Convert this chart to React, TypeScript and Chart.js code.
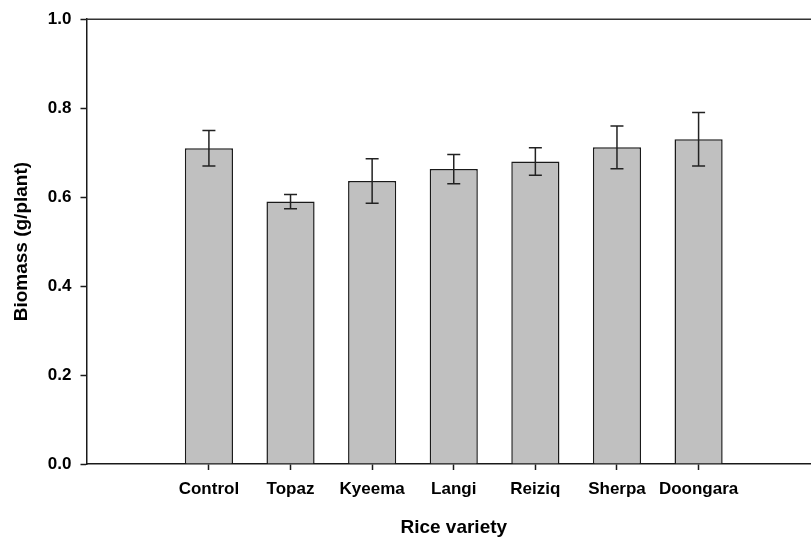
import React, { useEffect, useRef } from 'react';
import { Chart, registerables } from 'chart.js';

Chart.register(...registerables);

// Rice varieties and their mean biomass (g/plant) with standard errors
const varieties = ['Control', 'Topaz', 'Kyeema', 'Langi', 'Reiziq', 'Sherpa', 'Doongara'];
const biomass = [0.71, 0.59, 0.636, 0.663, 0.68, 0.712, 0.73];
const biomassError = [0.04, 0.016, 0.05, 0.033, 0.031, 0.048, 0.06];
const yTicks = [0, 0.2, 0.4, 0.6, 0.8, 1.0];

const FONT = '"Liberation Sans", Arial, Helvetica, sans-serif';
const INK = '#1a1a1a';

// One empty slot on each side of the varieties
const slotLabels = ['', ...varieties, ''];
const slotValues = [null, ...biomass, null];
const slotErrors = [null, ...biomassError, null];

const errorBarPlugin = {
  id: 'errorBars',
  afterDatasetsDraw(chart: any) {
    const { ctx } = chart;
    const yScale = chart.scales.y;
    const meta = chart.getDatasetMeta(0);
    ctx.save();
    ctx.strokeStyle = '#222';
    ctx.lineWidth = 1.5;
    meta.data.forEach((bar: any, i: number) => {
      const v = slotValues[i];
      const e = slotErrors[i];
      if (v == null || e == null) return;
      const x = bar.x;
      const yTop = yScale.getPixelForValue(v + e);
      const yBot = yScale.getPixelForValue(v - e);
      const half = 6.5;
      ctx.beginPath();
      ctx.moveTo(x, yTop);
      ctx.lineTo(x, yBot);
      ctx.moveTo(x - half, yTop);
      ctx.lineTo(x + half, yTop);
      ctx.moveTo(x - half, yBot);
      ctx.lineTo(x + half, yBot);
      ctx.stroke();
    });
    ctx.restore();
  },
};

const topFramePlugin = {
  id: 'topFrame',
  afterDraw(chart: any) {
    const { ctx, chartArea } = chart;
    ctx.save();
    ctx.strokeStyle = '#333';
    ctx.lineWidth = 1.5;
    ctx.beginPath();
    ctx.moveTo(chartArea.left, chartArea.top);
    ctx.lineTo(chartArea.right, chartArea.top);
    ctx.stroke();
    ctx.restore();
  },
};

export default function App() {
  const canvasRef = useRef<HTMLCanvasElement | null>(null);

  useEffect(() => {
    if (!canvasRef.current) return;
    const chart = new Chart(canvasRef.current, {
      type: 'bar',
      data: {
        labels: slotLabels,
        datasets: [
          {
            data: slotValues as any,
            backgroundColor: '#c0c0c0',
            borderColor: INK,
            borderWidth: 1.5,
            barPercentage: 0.59,
            categoryPercentage: 1,
          },
        ],
      },
      options: {
        responsive: false,
        animation: false,
        layout: { padding: { top: 16.5, left: 0, right: 0, bottom: 0 } },
        plugins: {
          legend: { display: false },
          tooltip: { enabled: false },
        },
        scales: {
          x: {
            offset: true,
            afterFit(scale: any) {
              scale.height = 77;
            },
            grid: {
              offset: false,
              drawOnChartArea: false,
              drawTicks: true,
              tickLength: 6,
              tickWidth: 1.5,
              tickColor: (c: any) => (slotLabels[c.index] ? INK : 'rgba(0,0,0,0)'),
            },
            border: { display: true, color: INK, width: 1.5 },
            ticks: {
              autoSkip: false,
              maxRotation: 0,
              padding: 9,
              color: '#000',
              font: { family: FONT, size: 17, weight: 'bold' },
            },
            title: {
              display: true,
              text: 'Rice variety',
              color: '#000',
              padding: { top: 0, bottom: 2 },
              font: { family: FONT, size: 19, weight: 'bold' },
            },
          },
          y: {
            min: 0,
            max: 1,
            afterFit(scale: any) {
              scale.width = 86.5;
            },
            afterBuildTicks(scale: any) {
              scale.ticks = yTicks.map((v) => ({ value: v }));
            },
            grid: {
              drawOnChartArea: false,
              drawTicks: true,
              tickLength: 6,
              tickWidth: 1.5,
              tickColor: INK,
            },
            border: { display: true, color: INK, width: 1.5 },
            ticks: {
              padding: 9,
              color: '#000',
              callback: (v: any) => Number(v).toFixed(1),
              font: { family: FONT, size: 17, weight: 'bold' },
            },
            title: {
              display: true,
              text: 'Biomass (g/plant)',
              color: '#000',
              padding: { top: 10, bottom: 0 },
              font: { family: FONT, size: 19, weight: 'bold' },
            },
          },
        },
      },
      plugins: [errorBarPlugin, topFramePlugin],
    });
    return () => chart.destroy();
  }, []);

  return (
    <div
      style={{
        position: 'fixed',
        left: 0,
        top: 0,
        width: 811,
        height: 541,
        overflow: 'hidden',
        background: '#fff',
      }}
    >
      <canvas ref={canvasRef} width={821} height={541} style={{ display: 'block' }} />
    </div>
  );
}
